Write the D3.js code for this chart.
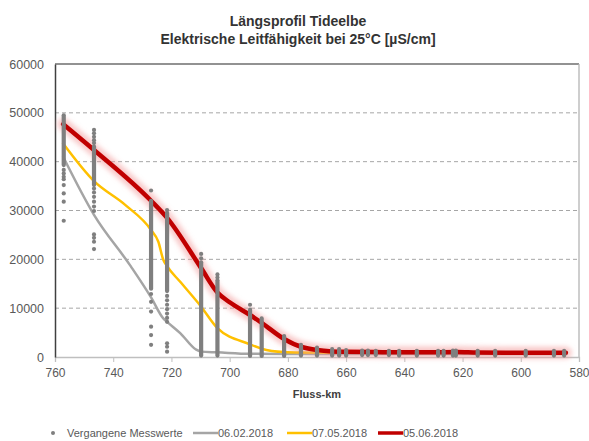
<!DOCTYPE html>
<html>
<head>
<meta charset="utf-8">
<script src="https://cdn.jsdelivr.net/npm/d3@7"></script>
<style>
  body { margin: 0; background: #fff; }
  svg { display: block; font-family: "Liberation Sans", Arial, sans-serif; }
</style>
</head>
<body>
<div id="chart"></div>
<script>
var W = 589, H = 441;
var margin = { top: 64, right: 10, bottom: 84, left: 55 };

var titleLines = ["Längsprofil Tideelbe", "Elektrische Leitfähigkeit bei 25°C [µS/cm]"];
var xTicks = [760, 740, 720, 700, 680, 660, 640, 620, 600, 580];
var yTicks = [0, 10000, 20000, 30000, 40000, 50000, 60000];

// measuring stations (Fluss-km) and the dense range of past values
var stationKm   = [757.0, 746.6, 727.0, 721.5, 709.8, 704.2, 693.0, 689.0, 681.3, 675.5, 670.0, 664.8, 662.4, 660.0, 654.5, 652.5, 649.8, 645.3, 641.8, 635.7, 628.4, 626.5, 623.3, 622.3, 614.8, 608.8, 598.3, 588.6, 585.1];
var stationLow  = [39300, 35200, 14000, 13500, 300, 300, 200, 200, 200, 300, 300, 300, 300, 300, 400, 400, 400, 400, 300, 300, 300, 300, 300, 300, 300, 300, 300, 300, 300];
var stationHigh = [49500, 43100, 32000, 29500, 19400, 15700, 9700, 7900, 4300, 2500, 1900, 1600, 1600, 1400, 1300, 1300, 1250, 1250, 1250, 1250, 1250, 1250, 1300, 1300, 1250, 1250, 1250, 1250, 1250];

// single past values outside the dense ranges
var singleKm  = [757.0, 757.0, 757.0, 757.0, 757.0, 757.0, 757.0, 757.0,
                 746.6, 746.6, 746.6, 746.6, 746.6, 746.6, 746.6, 746.6, 746.6, 746.6, 746.6, 746.6, 746.6, 746.6, 746.6,
                 727.0, 727.0, 727.0, 727.0, 727.0, 727.0, 727.0,
                 721.5, 721.5, 721.5, 721.5, 721.5, 721.5, 721.5, 721.5, 721.5, 721.5, 721.5,
                 709.8, 709.8, 704.2, 704.2, 693.0];
var singleVal = [38300, 37600, 36900, 36400, 35200, 33500, 31800, 27900,
                 46500, 45800, 45100, 44400, 43800, 34500, 33700, 32800, 31800, 30800, 29900, 25100, 24400, 23600, 22100,
                 34100, 12900, 11300, 9300, 6200, 4500, 2500,
                 30100, 12500, 11600, 10700, 9800, 8900, 8000, 7200, 2800, 2100, 1100,
                 21100, 20200, 16900, 16300, 10700];

// 06.02.2018
var febKm  = [757.2, 746.6, 734.0, 727.0, 722.8, 721.5, 717.0, 711.5, 709.8, 704.2, 693.0, 680.0, 660.0, 620.0, 584.5];
var febVal = [41000, 29100, 18600, 12200, 7900, 7200, 4900, 1500, 1100, 950, 650, 600, 600, 600, 600];
// 07.05.2018
var mayKm  = [757.2, 746.6, 736.0, 727.0, 724.5, 722.8, 721.5, 717.0, 709.8, 704.2, 693.0, 689.0, 681.3, 675.5, 660.0, 620.0, 584.5];
var mayVal = [43700, 36000, 31200, 26000, 23600, 19900, 18600, 15400, 10300, 5900, 2600, 1700, 1000, 900, 850, 850, 850];
// 05.06.2018
var junKm  = [757.2, 746.6, 727.0, 721.5, 709.8, 704.2, 700.0, 693.0, 689.0, 681.3, 675.5, 670.0, 664.8, 660.0, 650.0, 640.0, 630.0, 622.0, 615.0, 600.0, 590.0, 584.5];
var junVal = [47700, 42400, 32000, 28500, 18200, 13200, 11200, 8600, 7000, 3700, 2100, 1450, 1150, 1050, 1000, 950, 950, 1000, 900, 850, 850, 850];

var seriesNames  = ["Vergangene Messwerte", "06.02.2018", "07.05.2018", "05.06.2018"];
var seriesColors = ["#7f7f7f", "#a5a5a5", "#ffc000", "#c00000"];

var svg = d3.select("#chart").append("svg")
  .attr("width", W)
  .attr("height", H);

var defs = svg.append("defs");
defs.append("filter")
  .attr("id", "glow")
  .attr("x", "-5%").attr("y", "-20%")
  .attr("width", "110%").attr("height", "140%")
  .append("feGaussianBlur")
  .attr("stdDeviation", 2.4);

var x = d3.scaleLinear()
  .domain([760, 580])
  .range([margin.left, W - margin.right]);
var y = d3.scaleLinear()
  .domain([0, 60000])
  .range([H - margin.bottom, margin.top]);

// title
svg.append("text")
  .attr("x", 298)
  .attr("y", 26)
  .attr("text-anchor", "middle")
  .attr("font-size", "14px")
  .attr("font-weight", "bold")
  .attr("fill", "#333")
  .selectAll("tspan")
  .data(titleLines)
  .enter()
  .append("tspan")
  .attr("x", 298)
  .attr("dy", function(d, i) { return i == 0 ? 0 : 18; })
  .text(function(d) { return d; });

// gridlines
svg.append("g")
  .selectAll("line")
  .data(yTicks.slice(1, -1))
  .enter()
  .append("line")
  .attr("x1", margin.left)
  .attr("x2", W - margin.right)
  .attr("y1", function(d) { return y(d); })
  .attr("y2", function(d) { return y(d); })
  .attr("stroke", "#a6a6a6")
  .attr("stroke-width", 1)
  .attr("stroke-dasharray", "4,3");

// frame: top and right
svg.append("line")
  .attr("x1", margin.left).attr("x2", W - margin.right)
  .attr("y1", y(60000)).attr("y2", y(60000))
  .attr("stroke", "#6e6e6e").attr("stroke-width", 1.5);
svg.append("line")
  .attr("x1", W - margin.right).attr("x2", W - margin.right)
  .attr("y1", y(60000)).attr("y2", y(0))
  .attr("stroke", "#b4b4b4").attr("stroke-width", 1.3);

// x axis
var xAxis = d3.axisBottom(x)
  .tickValues(xTicks)
  .tickSize(5)
  .tickPadding(6)
  .tickFormat(d3.format("d"));
var gx = svg.append("g")
  .attr("class", "x-axis")
  .attr("transform", "translate(0," + y(0) + ")")
  .call(xAxis);
gx.select(".domain").attr("stroke", "#bfbfbf").attr("stroke-width", 1.3);
gx.selectAll(".tick line").attr("stroke", "#bfbfbf");
gx.selectAll("text").attr("fill", "#595959").attr("font-size", "12px").attr("font-family", null);

// y axis
var yAxis = d3.axisLeft(y)
  .tickValues(yTicks)
  .tickSize(0)
  .tickPadding(11)
  .tickFormat(d3.format("d"));
var gy = svg.append("g")
  .attr("class", "y-axis")
  .attr("transform", "translate(" + margin.left + ",0)")
  .call(yAxis);
gy.select(".domain").attr("stroke", "#404040").attr("stroke-width", 1.5);
gy.selectAll("text").attr("fill", "#595959").attr("font-size", "12.5px").attr("font-family", null);

svg.append("text")
  .attr("x", (margin.left + W - margin.right) / 2)
  .attr("y", 398)
  .attr("text-anchor", "middle")
  .attr("font-size", "11px")
  .attr("font-weight", "bold")
  .attr("fill", "#404040")
  .text("Fluss-km");

// lines
var line = d3.line()
  .x(function(d) { return x(d[0]); })
  .y(function(d) { return y(d[1]); })
  .curve(d3.curveMonotoneX);

var feb = d3.zip(febKm, febVal);
var may = d3.zip(mayKm, mayVal);
var jun = d3.zip(junKm, junVal);

svg.append("path")
  .datum(feb)
  .attr("d", line)
  .attr("fill", "none")
  .attr("stroke", seriesColors[1])
  .attr("stroke-width", 2.5)
  .attr("stroke-linecap", "round");

svg.append("path")
  .datum(may)
  .attr("d", line)
  .attr("fill", "none")
  .attr("stroke", seriesColors[2])
  .attr("stroke-width", 2.5)
  .attr("stroke-linecap", "round");

svg.append("path")
  .datum(jun)
  .attr("d", line)
  .attr("fill", "none")
  .attr("stroke", "#f29a9a")
  .attr("stroke-opacity", 0.55)
  .attr("stroke-width", 12)
  .attr("stroke-linecap", "round")
  .attr("filter", "url(#glow)");

svg.append("path")
  .datum(jun)
  .attr("d", line)
  .attr("fill", "none")
  .attr("stroke", seriesColors[3])
  .attr("stroke-width", 4.5)
  .attr("stroke-linecap", "round");

// past measurements
var stations = d3.zip(stationKm, stationLow, stationHigh);
svg.append("g")
  .selectAll("line")
  .data(stations)
  .enter()
  .append("line")
  .attr("x1", function(d) { return x(d[0]); })
  .attr("x2", function(d) { return x(d[0]); })
  .attr("y1", function(d) { return y(d[1]); })
  .attr("y2", function(d) { return y(d[2]); })
  .attr("stroke", seriesColors[0])
  .attr("stroke-width", 4.2)
  .attr("stroke-linecap", "round");

svg.append("g")
  .selectAll("circle")
  .data(d3.zip(singleKm, singleVal))
  .enter()
  .append("circle")
  .attr("cx", function(d) { return x(d[0]); })
  .attr("cy", function(d) { return y(d[1]); })
  .attr("r", 2.1)
  .attr("fill", seriesColors[0]);

// legend
var legendX = [53, 193, 287, 378];
var lg = svg.append("g")
  .attr("class", "legend")
  .attr("transform", "translate(0,433)");
var items = lg.selectAll("g")
  .data(seriesNames)
  .enter()
  .append("g")
  .attr("transform", function(d, i) { return "translate(" + legendX[i] + ",0)"; });

items.filter(function(d, i) { return i == 0; })
  .append("circle")
  .attr("r", 2)
  .attr("fill", seriesColors[0]);
items.filter(function(d, i) { return i > 0; })
  .append("line")
  .attr("x1", 0).attr("x2", 25)
  .attr("stroke", function(d, i) { return seriesColors[i + 1]; })
  .attr("stroke-width", function(d, i) { return i == 2 ? 3.5 : 2.5; });

items.append("text")
  .attr("x", function(d, i) { return i == 0 ? 14 : 25; })
  .attr("dy", "0.35em")
  .attr("font-size", "11px")
  .attr("fill", "#595959")
  .text(function(d) { return d; });
</script>
</body>
</html>
